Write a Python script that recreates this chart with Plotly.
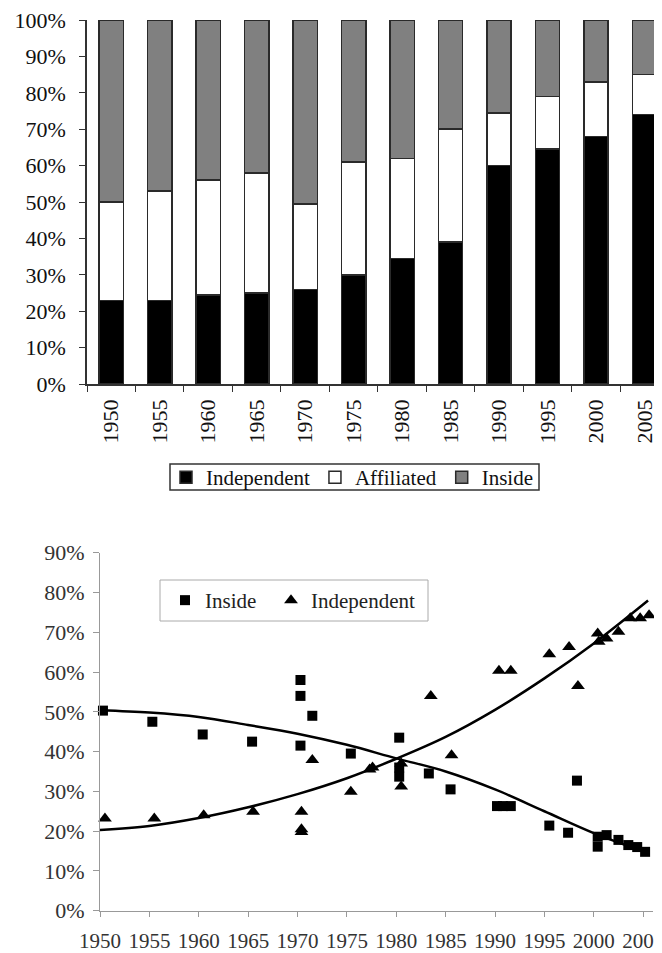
import plotly.graph_objects as go

# ---- Top chart data (stacked shares, %) ----
years_cat = ["1950", "1955", "1960", "1965", "1970", "1975", "1980", "1985", "1990", "1995", "2000", "2005"]
independent_share = [23, 23, 24.5, 25, 26, 30, 34.5, 39, 60, 64.5, 68, 74]
affiliated_share = [27, 30, 31.5, 33, 23.5, 31, 27.5, 31, 14.5, 14.5, 15, 11]
inside_share = [50, 47, 44, 42, 50.5, 39, 38, 30, 25.5, 21, 17, 15]

# ---- Bottom chart data (scatter, fraction) ----
inside_x = [1950.3, 1955.3, 1960.4, 1965.4, 1970.3, 1970.3, 1970.3, 1971.5, 1975.4, 1980.3, 1980.3, 1980.3,
            1983.3, 1985.5, 1990.2, 1990.8, 1991.6, 1995.5, 1997.4, 1998.3, 2000.4, 2000.4, 2001.3,
            2002.5, 2003.5, 2004.4, 2005.2]
inside_y = [0.503, 0.475, 0.443, 0.425, 0.415, 0.58, 0.54, 0.49, 0.395, 0.435, 0.337, 0.36,
            0.345, 0.305, 0.263, 0.263, 0.263, 0.214, 0.196, 0.327, 0.186, 0.161, 0.19,
            0.178, 0.165, 0.16, 0.148]
indep_x = [1950.5, 1955.5, 1960.5, 1965.5, 1970.4, 1970.4, 1970.4, 1971.5, 1975.4, 1977.3, 1977.6,
           1980.5, 1980.5, 1983.5, 1985.6, 1990.4, 1991.6, 1995.5, 1997.5, 1998.4, 2000.4, 2000.5,
           2001.3, 2002.5, 2003.7, 2004.7, 2005.6]
indep_y = [0.232, 0.232, 0.24, 0.249, 0.249, 0.205, 0.198, 0.379, 0.299, 0.355, 0.36,
           0.37, 0.312, 0.54, 0.391, 0.603, 0.603, 0.645, 0.663, 0.565, 0.697, 0.676,
           0.684, 0.701, 0.735, 0.735, 0.743]

# trend lines
trend_x = [1950, 1955, 1960, 1965, 1970, 1975, 1980, 1985, 1990, 1995, 2000, 2005.5]
inside_trend = [0.504, 0.498, 0.487, 0.467, 0.445, 0.417, 0.383, 0.35, 0.305, 0.25, 0.195, 0.145]
indep_trend = [0.203, 0.213, 0.233, 0.26, 0.293, 0.333, 0.382, 0.437, 0.505, 0.584, 0.672, 0.78]

y_ticks_top = [0, 10, 20, 30, 40, 50, 60, 70, 80, 90, 100]
y_ticks_bottom = [0, 0.1, 0.2, 0.3, 0.4, 0.5, 0.6, 0.7, 0.8, 0.9]
x_ticks_bottom = [1950, 1955, 1960, 1965, 1970, 1975, 1980, 1985, 1990, 1995, 2000, 2005]

SERIF = "Liberation Serif, Times New Roman, serif"
OFF = 8                      # page body margin
W, H = 662 - OFF, 953 - OFF


def px_x(p):
    return (p - OFF) / W


def px_y(p):
    return 1 - (p - OFF) / H


fig = go.Figure()
edge = dict(color="#2a2a2a", width=1.5)
fig.add_trace(go.Bar(x=years_cat, y=independent_share, name="Independent",
                     marker=dict(color="black", line=edge), width=0.5,
                     xaxis="x", yaxis="y", legend="legend"))
fig.add_trace(go.Bar(x=years_cat, y=affiliated_share, name="Affiliated",
                     marker=dict(color="white", line=edge), width=0.5,
                     xaxis="x", yaxis="y", legend="legend"))
fig.add_trace(go.Bar(x=years_cat, y=inside_share, name="Inside",
                     marker=dict(color="#808080", line=edge), width=0.5,
                     xaxis="x", yaxis="y", legend="legend"))

fig.add_trace(go.Scatter(x=inside_x, y=inside_y, mode="markers", name="Inside",
                         marker=dict(symbol="square", size=10, color="black"),
                         xaxis="x2", yaxis="y2", legend="legend2", cliponaxis=False))
fig.add_trace(go.Scatter(x=indep_x, y=indep_y, mode="markers", name="Independent",
                         marker=dict(symbol="triangle-up", size=12, color="black"),
                         xaxis="x2", yaxis="y2", legend="legend3", cliponaxis=False))
fig.add_trace(go.Scatter(x=trend_x, y=inside_trend, mode="lines",
                         line=dict(color="black", width=2.5, shape="spline"),
                         xaxis="x2", yaxis="y2", showlegend=False))
fig.add_trace(go.Scatter(x=trend_x, y=indep_trend, mode="lines",
                         line=dict(color="black", width=2.5, shape="spline"),
                         xaxis="x2", yaxis="y2", showlegend=False))

leg2_font = dict(size=21, family=SERIF, color="#222")

fig.update_layout(
    width=W, height=H,
    margin=dict(l=0, r=0, t=0, b=0),
    paper_bgcolor="white", plot_bgcolor="white",
    barmode="stack",
    font=dict(family=SERIF, size=22, color="#111"),
    xaxis=dict(domain=[px_x(87), 1.0], type="category", range=[-0.5, 11.36],
               showline=True, linecolor="#333", linewidth=1.5,
               ticks="outside", tickson="boundaries", ticklen=6, tickcolor="#333",
               tickangle=-90, ticklabelstandoff=5, ticklabeloverflow="allow",
               tickfont=dict(size=22, family=SERIF, color="#111"),
               showgrid=False, anchor="y", automargin=False),
    yaxis=dict(domain=[px_y(384), px_y(20)], range=[0, 100], tickvals=y_ticks_top,
               ticktext=[f"{v}%" for v in y_ticks_top],
               showline=True, linecolor="#333", linewidth=1.5,
               ticks="outside", ticklen=6, tickcolor="#333", showgrid=False,
               ticklabelstandoff=9, ticklabeloverflow="allow",
               tickfont=dict(size=22, family=SERIF, color="#111"), anchor="x", automargin=False),
    xaxis2=dict(domain=[px_x(100), px_x(653)], range=[1950, 2006], tickvals=x_ticks_bottom,
                showline=True, linecolor="#999", linewidth=1.2,
                ticks="outside", ticklen=5, tickcolor="#999", showgrid=False, zeroline=False,
                ticklabelstandoff=6, ticklabeloverflow="allow",
                tickfont=dict(size=21, family=SERIF, color="#333"), anchor="y2", automargin=False),
    yaxis2=dict(domain=[px_y(910.7), px_y(552.7)], range=[0, 0.9], tickvals=y_ticks_bottom,
                tickformat=".0%", showline=True, linecolor="#999", linewidth=1.2,
                ticks="outside", ticklen=6, tickcolor="#999", showgrid=False, zeroline=False,
                ticklabelstandoff=4, ticklabeloverflow="allow",
                tickfont=dict(size=22, family=SERIF, color="#333"), anchor="x2", automargin=False),
    legend=dict(orientation="h", x=px_x(166), xanchor="left", y=px_y(457), yanchor="top",
                borderwidth=0, bgcolor="rgba(0,0,0,0)",
                font=dict(size=21, family=SERIF, color="#111"), traceorder="normal",
                itemclick=False),
    legend2=dict(orientation="h", x=px_x(165), xanchor="left", y=px_y(580), yanchor="top",
                 borderwidth=0, bgcolor="rgba(0,0,0,0)",
                 font=leg2_font, itemclick=False),
    legend3=dict(orientation="h", x=px_x(271), xanchor="left", y=px_y(580), yanchor="top",
                 borderwidth=0, bgcolor="rgba(0,0,0,0)",
                 font=leg2_font, itemclick=False),
    showlegend=True,
    shapes=[
        dict(type="rect", xref="paper", yref="paper",
             x0=px_x(170), x1=px_x(539), y0=px_y(490), y1=px_y(464),
             line=dict(color="#333", width=1.5), fillcolor="rgba(0,0,0,0)", layer="below"),
        dict(type="rect", xref="paper", yref="paper",
             x0=px_x(160), x1=px_x(428), y0=px_y(621), y1=px_y(580),
             line=dict(color="#aaa", width=1), fillcolor="rgba(0,0,0,0)", layer="below"),
    ],
)

fig.write_html("out.html")
